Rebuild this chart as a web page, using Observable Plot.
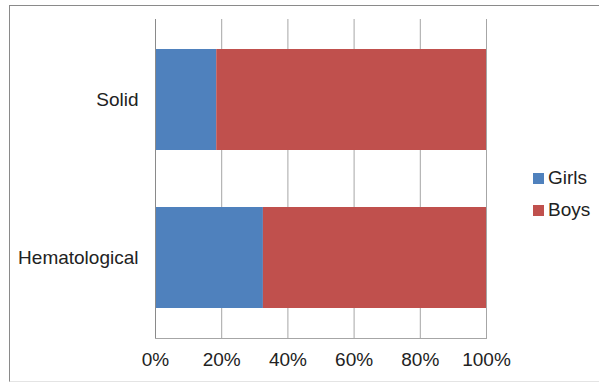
<!DOCTYPE html>
<html>
<head>
<meta charset="utf-8">
<script src="https://cdn.jsdelivr.net/npm/d3@7"></script>
<script src="https://cdn.jsdelivr.net/npm/@observablehq/plot@0.6"></script>
<style>
  html, body { margin: 0; padding: 0; background: #fff; }
  #wrap { position: relative; width: 599px; height: 382px; overflow: hidden; font-family: "Liberation Sans", Arial, sans-serif; }
  #border { position: absolute; left: 9px; top: 5px; width: 600px; height: 375px; border-top: 1px solid #8a8a8a; border-left: 1px solid #8a8a8a; border-bottom: 1px solid #e4e4e4; }
  #chart { position: absolute; left: 0; top: 0; }
  .leg { position: absolute; left: 533px; font-size: 19px; color: #222; display: flex; align-items: center; }
  .sw { width: 11px; height: 11px; margin-right: 4px; }
</style>
</head>
<body>
<div id="wrap">
  <div id="border"></div>
  <div id="chart"></div>
  <div id="legend"></div>
</div>
<script>
const categories = ["Solid", "Hematological"];
const series = ["Girls", "Boys"];
const girls = [18.5, 32.6];
const boys = [81.5, 67.4];
const ticks = [0, 20, 40, 60, 80, 100];
const colors = ["#4F81BD", "#C0504D"];

const rows = [];
categories.forEach((c, i) => {
  rows.push({type: c, sex: "Girls", value: girls[i]});
  rows.push({type: c, sex: "Boys", value: boys[i]});
});

const plot = Plot.plot({
  width: 599,
  height: 382,
  marginLeft: 155,
  marginRight: 113,
  marginTop: 19,
  marginBottom: 44,
  style: {fontFamily: "Liberation Sans, Arial, sans-serif", fontSize: "19px", color: "#222", background: "transparent"},
  x: {domain: [0, 100], ticks: ticks, tickFormat: d => d + "%", label: null},
  y: {domain: categories, paddingInner: 0.36, paddingOuter: 0.185, label: null},
  color: {domain: series, range: colors},
  marks: [
    Plot.ruleX(ticks.slice(1), {stroke: "#a6a6a6", strokeWidth: 1}),
    Plot.barX(rows, Plot.stackX({x: "value", y: "type", fill: "sex", order: series})),
    Plot.ruleX([0], {stroke: "#8a8a8a", strokeWidth: 1}),
    Plot.frame({anchor: "bottom", stroke: "#a6a6a6", strokeWidth: 1}),
    Plot.axisX({ticks: ticks, tickFormat: d => d + "%", tickSize: 0, tickPadding: 14, fontSize: 19}),
    Plot.axisY({tickSize: 0, tickPadding: 17, fontSize: 19})
  ]
});
document.getElementById("chart").appendChild(plot);

const legend = document.getElementById("legend");
const legendTops = [167, 199];
series.forEach((s, i) => {
  const d = document.createElement("div");
  d.className = "leg";
  d.style.top = legendTops[i] + "px";
  d.innerHTML = `<span class="sw" style="background:${colors[i]}"></span><span>${s}</span>`;
  legend.appendChild(d);
});
</script>
</body>
</html>
